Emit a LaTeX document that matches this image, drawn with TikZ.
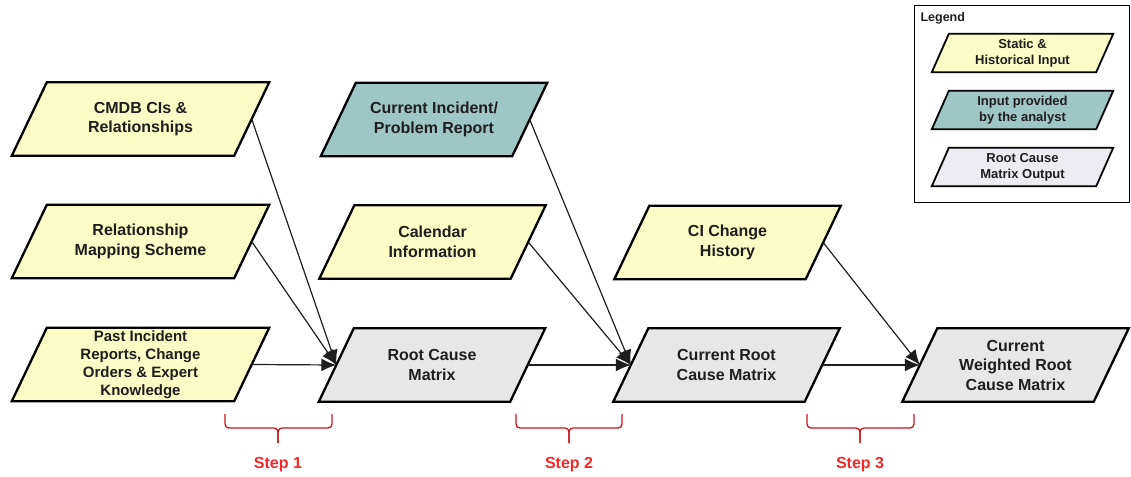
\documentclass[tikz,border=0pt]{standalone}
\usepackage{fontspec}
\setmainfont{Liberation Sans}
\usetikzlibrary{arrows.meta,calc,backgrounds}
\definecolor{staticfill}{HTML}{FBFBC6}
\definecolor{analystfill}{HTML}{9EC6C4}
\definecolor{matrixfill}{HTML}{E7E7E7}
\definecolor{outputfill}{HTML}{EDECF2}
\definecolor{stepred}{HTML}{F02A2A}
\definecolor{bracered}{HTML}{C4161C}
\definecolor{inktext}{HTML}{1E1E1E}

\begin{document}
\begin{tikzpicture}[x=1pt,y=-1pt,
  % the node is the inner rectangle of a parallelogram; its west/east
  % anchors are the midpoints of the slanted sides
  para/.style={rectangle, minimum width=191pt, minimum height=73pt,
    inner sep=0pt, align=center, text=inktext,
    font=\bfseries\fontsize{16}{19.5}\selectfont},
  wide/.style={minimum width=222pt},
  legitem/.style={para, minimum width=164pt, minimum height=38pt,
    font=\bfseries\fontsize{13}{16}\selectfont},
  outline/.style={draw=black, line width=2.3pt, line join=miter},
  feed/.style={line width=1.2pt, draw=inktext, -{Latex[length=15pt,width=13pt]}},
  bracket/.style={draw=bracered, line width=1.3pt, rounded corners=4pt},
  steplabel/.style={text=stepred, font=\bfseries\fontsize{16}{19}\selectfont}
]
\useasboundingbox (0,0) rectangle (1131,476);

% first column: static inputs
\node[para, wide] (cmdb) at (140.5,119) {CMDB CIs \&\\Relationships};
\node[para, wide] (mapping) at (140.5,241.5) {Relationship\\Mapping Scheme};
\node[para, wide, font=\bfseries\fontsize{15}{18}\selectfont] (past) at (140.5,364.5)
  {Past Incident\\Reports, Change\\Orders \& Expert\\Knowledge};

% second column
\node[para] (incident) at (434,119.5) {Current Incident/\\Problem Report};
\node[para] (calendar) at (432.5,242) {Calendar\\Information};
\node[para] (rcm) at (432,365) {Root Cause\\Matrix};

% third column
\node[para] (history) at (727.5,242.5) {CI Change\\History};
\node[para] (current) at (726.5,365) {Current Root\\Cause Matrix};

% final output
\node[para] (weighted) at (1015.5,365) {Current\\Weighted Root\\Cause Matrix};

% legend frame and keys
\node[draw=black, line width=1.3pt, anchor=north west, minimum width=215pt,
  minimum height=197pt, inner sep=0pt] (legend) at (914,5) {};
\node[anchor=west, text=inktext, font=\bfseries\fontsize{12.5}{14}\selectfont]
  (legendtitle) at (917,18) {Legend};
\node[legitem] (keystatic) at (1022.5,53) {Static \&\\Historical Input};
\node[legitem] (keyanalyst) at (1022.5,110) {Input provided\\by the analyst};
\node[legitem] (keyoutput) at (1022.5,167) {Root Cause\\Matrix Output};

% parallelogram bodies behind the labels
\begin{scope}[on background layer]
  \foreach \n/\c in {cmdb/staticfill, mapping/staticfill, past/staticfill,
      incident/analystfill, calendar/staticfill, rcm/matrixfill,
      history/staticfill, current/matrixfill, weighted/matrixfill}{
    \path[outline, fill=\c]
      ($(\n.north west)+(17.5,0)$) -- ($(\n.north east)+(17.5,0)$) --
      ($(\n.south east)-(17.5,0)$) -- ($(\n.south west)-(17.5,0)$) -- cycle;
  }
  \foreach \n/\c in {keystatic/staticfill, keyanalyst/analystfill, keyoutput/outputfill}{
    \path[outline, line width=1.8pt, fill=\c]
      ($(\n.north west)+(8.5,0)$) -- ($(\n.north east)+(8.5,0)$) --
      ($(\n.south east)-(8.5,0)$) -- ($(\n.south west)-(8.5,0)$) -- cycle;
  }
\end{scope}

% data flow
\draw[feed] (cmdb.east) -- (rcm.west);
\draw[feed] (mapping.east) -- (rcm.west);
\draw[feed] (past.east) -- (rcm.west);
\draw[feed] (incident.east) -- (current.west);
\draw[feed] (calendar.east) -- (current.west);
\draw[feed] (rcm.east) -- (current.west);
\draw[feed] (history.east) -- (weighted.west);
\draw[feed] (current.east) -- (weighted.west);

% step brackets
\foreach \l/\m/\r/\n in {225/278/332/1, 516/569/622/2, 807/860/914/3}{
  \draw[bracket] (\l,414) -- (\l,428) -- (\m,428) -- (\m,443);
  \draw[bracket] (\r,414) -- (\r,428) -- (\m,428) -- (\m,443);
  \node[steplabel] (step\n) at (\m,465) {Step \n};
}
\end{tikzpicture}
\end{document}
